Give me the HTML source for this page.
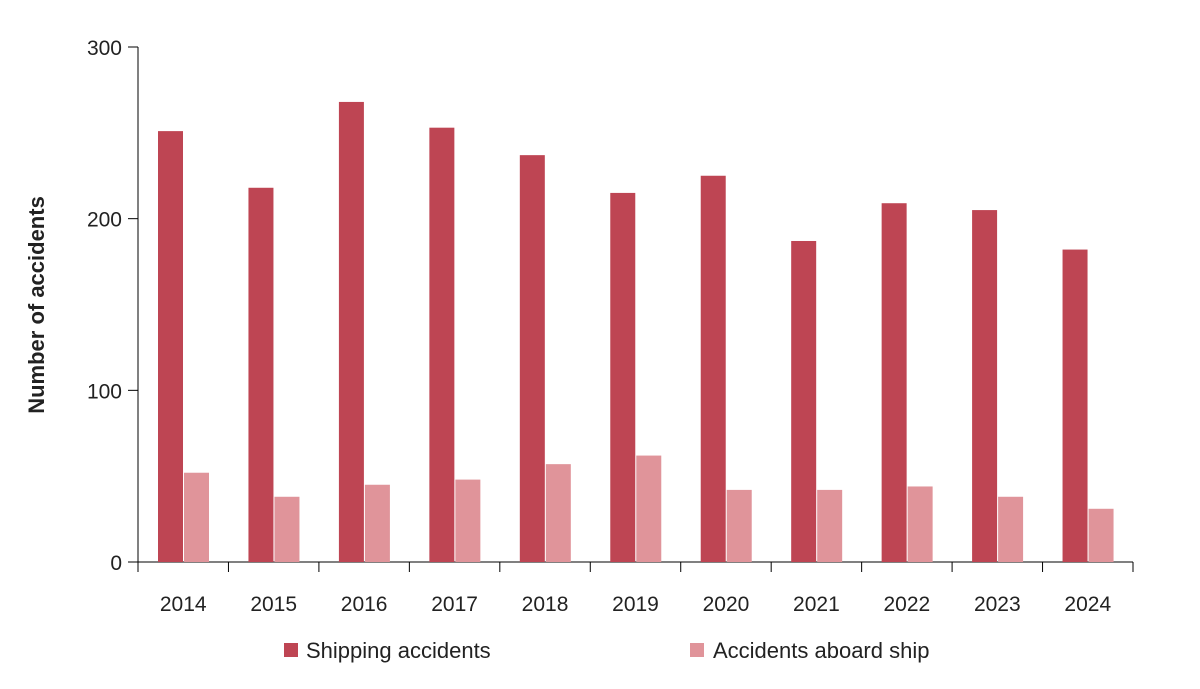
<!DOCTYPE html>
<html><head><meta charset="utf-8"><style>
html,body{margin:0;padding:0;background:#fff;}
svg{display:block;font-family:"Liberation Sans",sans-serif;}
</style></head><body>
<svg id="chart" width="1200" height="689" viewBox="0 0 1200 689" xmlns="http://www.w3.org/2000/svg"></svg>
<script>
const categories = ["2014","2015","2016","2017","2018","2019","2020","2021","2022","2023","2024"];
const shipping = [251,218,268,253,237,215,225,187,209,205,182];
const aboard = [52,38,45,48,57,62,42,42,44,38,31];
const yTicks = [0,100,200,300];

const svg = document.getElementById('chart');
const NS = "http://www.w3.org/2000/svg";
const x0 = 138, x1 = 1133, y0 = 562, yTop = 47, yMax = 300;
const band = (x1 - x0) / categories.length;
const yScale = v => y0 - v * (y0 - yTop) / yMax;
const xBand = i => x0 + i * band;
function mk(tag, attrs, name, text){
  const e = document.createElementNS(NS, tag);
  for (const k in attrs) e.setAttribute(k, attrs[k]);
  
  
  if (text !== undefined) e.textContent = text;
  svg.appendChild(e);
  return e;
}
// axes
mk('line',{x1:x0,y1:yTop,x2:x0,y2:y0,stroke:'#000','stroke-width':1},'y-axis-line');
mk('line',{x1:x0,y1:y0,x2:x1,y2:y0,stroke:'#000','stroke-width':1},'x-axis-line');
yTicks.forEach(t=>{
  const y = yScale(t);
  mk('line',{x1:x0-10,y1:y,x2:x0,y2:y,stroke:'#000','stroke-width':1},'y-tick');
  mk('text',{x:x0-16,y:y+8,'text-anchor':'end','font-size':21,fill:'#222'},'y-tick-label',String(t));
});
for (let i=0;i<=categories.length;i++){
  const x = xBand(i);
  mk('line',{x1:x,y1:y0,x2:x,y2:y0+10,stroke:'#000','stroke-width':1},'x-tick');
}
categories.forEach((c,i)=>{
  const bx = xBand(i) + 20, w = 25;
  mk('rect',{x:bx,y:yScale(shipping[i]),width:w,height:y0-yScale(shipping[i]),fill:'#be4553'},'bar-shipping-'+c);
  mk('rect',{x:bx+w+1,y:yScale(aboard[i]),width:w,height:y0-yScale(aboard[i]),fill:'#e0949a'},'bar-aboard-'+c);
  mk('text',{x:xBand(i)+band/2,y:611,'text-anchor':'middle','font-size':21,fill:'#222'},'x-tick-label',c);
});
mk('text',{x:0,y:0,transform:'translate(44,305) rotate(-90)','text-anchor':'middle','font-size':22,'font-weight':'bold',fill:'#222'},'y-axis-title','Number of accidents');
mk('rect',{x:284,y:643,width:14,height:14,fill:'#be4553'},'legend-swatch-shipping');
mk('text',{x:306,y:658,'font-size':22,fill:'#222'},'legend-label-shipping','Shipping accidents');
mk('rect',{x:690,y:643,width:14,height:14,fill:'#e0949a'},'legend-swatch-aboard');
mk('text',{x:713,y:658,'font-size':22,fill:'#222'},'legend-label-aboard','Accidents aboard ship');
</script>
</body></html>
